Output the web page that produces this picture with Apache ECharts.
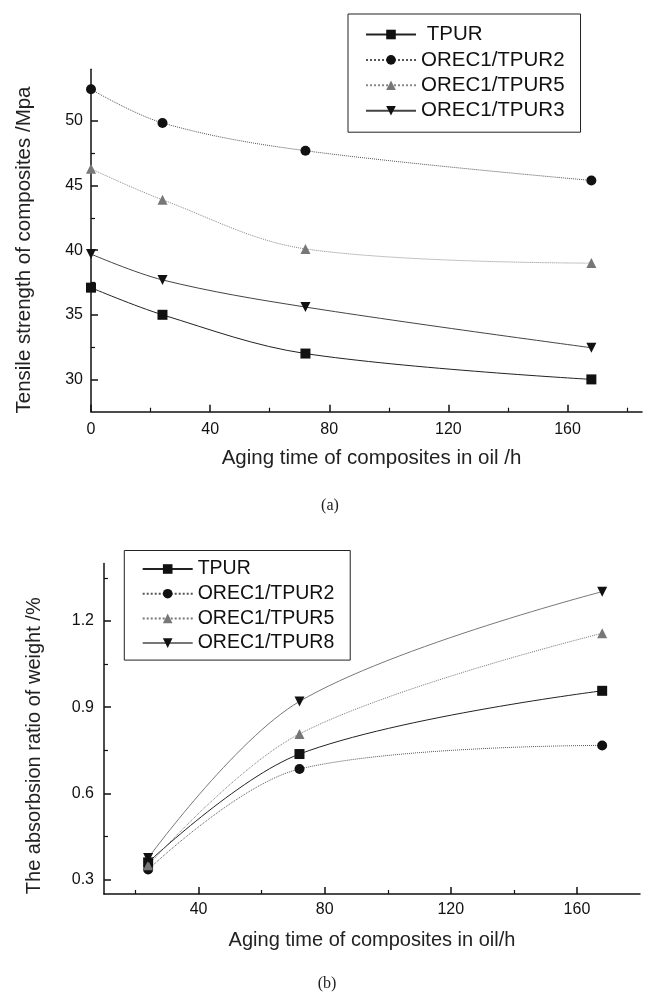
<!DOCTYPE html>
<html>
<head>
<meta charset="utf-8">
<script src="https://cdn.jsdelivr.net/npm/echarts@6/dist/echarts.min.js"></script>
<style>
  html, body { margin: 0; background: #fff; }
  .chart { position: absolute; left: 0; top: 0; width: 647px; height: 995px; }
</style>
</head>
<body>
<div id="chartA" class="chart"></div>
<div id="chartB" class="chart"></div>
<script>
// (a) tensile strength vs aging time in oil
const hoursA = [0, 24, 72, 168];
const tpurA = [37.1, 35.0, 32.0, 30.0];
const orec2A = [52.45, 49.85, 47.7, 45.4];
const orec5A = [46.3, 43.9, 40.1, 39.0];
const orec3A = [39.7, 37.7, 35.6, 32.45];
const xMajorA = [0, 40, 80, 120, 160];
const xMinorA = [20, 60, 100, 140, 180];
const yMajorA = [30, 35, 40, 45, 50];
const yMinorA = [32.5, 37.5, 42.5, 47.5, 52.5];

// (b) weight absorption ratio vs aging time in oil
const hoursB = [24, 72, 168];
const tpurB = [0.36, 0.737, 0.957];
const orec2B = [0.335, 0.685, 0.767];
const orec5B = [0.35, 0.807, 1.157];
const orec8B = [0.375, 0.92, 1.302];
const xMajorB = [40, 80, 120, 160];
const xMinorB = [20, 60, 100, 140];
const yMajorB = [0.3, 0.6, 0.9, 1.2];
const yMinorB = [0.45, 0.75, 1.05, 1.35];

const FONT = 'Liberation Sans, Arial, sans-serif';
const TRI_DOWN = 'path://M0,0L10,0L5,9Z';

// main axis with labels + a second, bare axis that only carries the short minor ticks
const axisPair = (min, max, major, minor, extra) => [
  Object.assign({
    type: 'value', min, max,
    axisLine: { lineStyle: { color: '#111', width: 1.5 } },
    axisTick: { inside: true, length: 7, customValues: major, lineStyle: { color: '#111', width: 1.5 } },
    axisLabel: { customValues: major, fontSize: 16, color: '#111', fontFamily: FONT },
    splitLine: { show: false }
  }, extra),
  {
    type: 'value', min, max, position: extra.position,
    axisLine: { show: false },
    axisTick: { inside: true, length: 4, customValues: minor, lineStyle: { color: '#111', width: 1.2 } },
    axisLabel: { show: false },
    splitLine: { show: false }
  }
];

const line = (name, xs, ys, symbol, dash, color, markColor) => ({
  type: 'line',
  name,
  data: xs.map((x, i) => [x, ys[i]]),
  symbol,
  symbolSize: 10,
  smooth: 0.35,
  lineStyle: { width: 1, color, type: dash },
  itemStyle: { color: markColor }
});

const legendBase = (left, top, padding, gap, size) => ({
  orient: 'vertical',
  left, top, padding,
  itemWidth: 50,
  itemHeight: 12,
  itemGap: gap,
  borderColor: '#222',
  borderWidth: 1,
  textStyle: { fontSize: size, lineHeight: 20, color: '#111', fontFamily: FONT }
});

const chartA = echarts.init(document.getElementById('chartA'));
chartA.setOption({
  animation: false,
  backgroundColor: '#fff',
  grid: { left: 91, top: 69.3, right: 5, bottom: 583.3 },
  legend: Object.assign(legendBase(348, 14, [10, 16, 11, 17], 4.4, 20.5), {
    formatter: n => n === 'TPUR' ? ' TPUR' : n
  }),
  xAxis: axisPair(0, 185, xMajorA, xMinorA, {
    position: 'bottom',
    name: 'Aging time of composites in oil /h',
    nameLocation: 'middle',
    nameGap: 36,
    nameTextStyle: { fontSize: 20.5, color: '#222', fontFamily: FONT, padding: [0, 0, 0, 10] },
    axisLabel: { customValues: xMajorA, fontSize: 16, color: '#111', fontFamily: FONT, margin: 10 }
  }),
  yAxis: axisPair(27.5, 54, yMajorA, yMinorA, {
    position: 'left',
    name: 'Tensile strength of composites /Mpa',
    nameLocation: 'middle',
    nameGap: 56,
    nameTextStyle: { fontSize: 20.5, color: '#222', fontFamily: FONT, padding: [0, 19, 0, 0] },
    axisLabel: { customValues: yMajorA, fontSize: 16, color: '#111', fontFamily: FONT, margin: 8 }
  }),
  series: [
    line('TPUR', hoursA, tpurA, 'rect', 'solid', '#222', '#111'),
    line('OREC1/TPUR2', hoursA, orec2A, 'circle', 'dotted', '#555', '#111'),
    line('OREC1/TPUR5', hoursA, orec5A, 'triangle', 'dotted', '#888', '#777'),
    line('OREC1/TPUR3', hoursA, orec3A, TRI_DOWN, 'solid', '#444', '#111')
  ],
  graphic: [{
    type: 'text', x: 330, y: 506,
    style: { text: '(a)', font: '16px Liberation Serif, serif', fill: '#222', align: 'center', verticalAlign: 'middle' }
  }]
});

const chartB = echarts.init(document.getElementById('chartB'));
chartB.setOption({
  animation: false,
  grid: { left: 104, top: 563.5, right: 7, bottom: 101 },
  legend: legendBase(124.3, 550.5, [8.5, 16, 7, 17.4], 4.7, 19.5),
  xAxis: axisPair(10, 180, xMajorB, xMinorB, {
    position: 'bottom',
    name: 'Aging time of composites in oil/h',
    nameLocation: 'middle',
    nameGap: 36,
    nameTextStyle: { fontSize: 20, color: '#222', fontFamily: FONT },
    axisLabel: { customValues: xMajorB, fontSize: 16, color: '#111', fontFamily: FONT, margin: 8 }
  }),
  yAxis: axisPair(0.25, 1.4, yMajorB, yMinorB, {
    position: 'left',
    name: 'The absorbsion ratio of weight /%',
    nameLocation: 'middle',
    nameGap: 60,
    nameTextStyle: { fontSize: 20, color: '#222', fontFamily: FONT, padding: [0, 34, 0, 0] },
    axisLabel: { customValues: yMajorB, fontSize: 16, color: '#111', fontFamily: FONT, margin: 10 }
  }),
  series: [
    line('TPUR', hoursB, tpurB, 'rect', 'solid', '#222', '#111'),
    line('OREC1/TPUR2', hoursB, orec2B, 'circle', 'dotted', '#555', '#111'),
    line('OREC1/TPUR5', hoursB, orec5B, 'triangle', 'dotted', '#777', '#777'),
    line('OREC1/TPUR8', hoursB, orec8B, TRI_DOWN, 'solid', '#777', '#111')
  ],
  graphic: [{
    type: 'text', x: 327, y: 984,
    style: { text: '(b)', font: '16px Liberation Serif, serif', fill: '#222', align: 'center', verticalAlign: 'middle' }
  }]
});
</script>
</body>
</html>
